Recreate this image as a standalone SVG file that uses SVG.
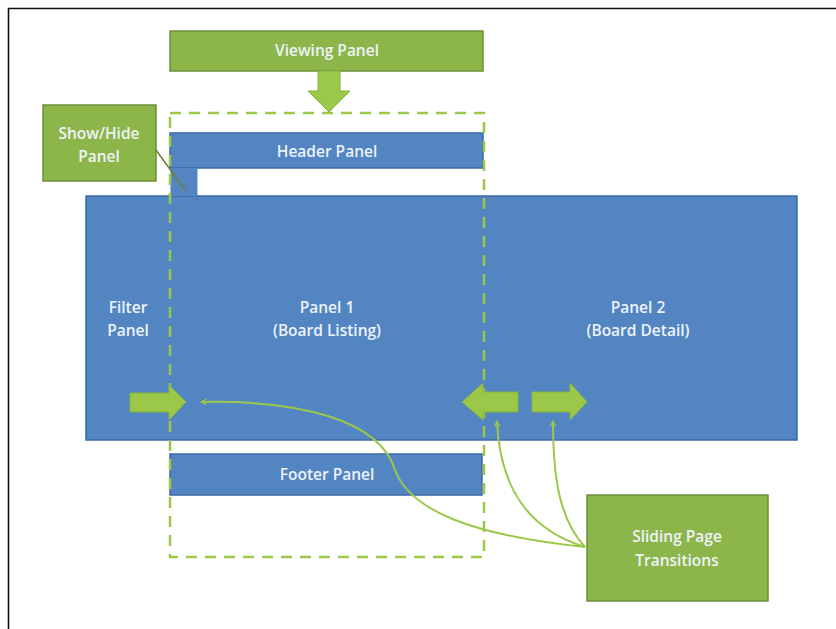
<svg xmlns="http://www.w3.org/2000/svg" width="836" height="629" viewBox="0 0 836 629">
<defs>
<style>
.blue{fill:#5385c3;stroke:#3d6aa6;stroke-width:1.5}
.gbox{fill:#8db64a;stroke:#6f8f38;stroke-width:1.5}
.lbl{font-family:"Open Sans","Liberation Sans",sans-serif;font-size:15.5px;font-weight:600;fill:#eef3fa;text-anchor:middle}
.garrow{fill:#9cc84a;stroke:#86b43a;stroke-width:1}
.conn{fill:none;stroke:#9cc84a;stroke-width:2}
</style>
<marker id="ah" viewBox="0 0 10 10" refX="9" refY="5" markerWidth="7" markerHeight="7" orient="auto" markerUnits="userSpaceOnUse">
<path d="M1,1 L9,5 L1,9" fill="none" stroke="#9cc84a" stroke-width="1.6"/>
</marker>
</defs>
<rect width="836" height="629" fill="#ffffff"/>
<path d="M8.5,629 V8.5 H836" fill="none" stroke="#111" stroke-width="1.6"/>

<g id="big-panel">
<rect class="blue" x="86" y="196" width="711" height="244"/>
<text class="lbl" x="128" y="313">Filter</text>
<text class="lbl" x="128" y="336">Panel</text>
<text class="lbl" x="327" y="313">Panel 1</text>
<text class="lbl" x="327" y="336">(Board Listing)</text>
<text class="lbl" x="638" y="313">Panel 2</text>
<text class="lbl" x="638" y="336">(Board Detail)</text>
</g>

<g id="header-panel">
<rect class="blue" x="170" y="133" width="313" height="35"/>
<rect x="170.5" y="168" width="27" height="28" fill="#5385c3"/>
<text class="lbl" x="327" y="157">Header Panel</text>
</g>

<g id="footer-panel">
<rect class="blue" x="170" y="454" width="312" height="41"/>
<text class="lbl" x="327" y="480">Footer Panel</text>
</g>

<g id="viewing-frame">
<rect x="170" y="113" width="314" height="444" fill="none" stroke="#9cc84a" stroke-width="2.5" stroke-dasharray="11,8"/>
</g>

<g id="viewing-panel">
<rect class="gbox" x="170" y="31" width="313" height="40"/>
<text class="lbl" x="327" y="56">Viewing Panel</text>
<path class="garrow" d="M318,71 H340 V91 H350 L329,112 L308,91 H318 Z"/>
</g>

<g id="show-hide-panel">
<rect class="gbox" x="43" y="105" width="113" height="76"/>
<text class="lbl" x="99" y="139">Show/Hide</text>
<text class="lbl" x="99" y="162">Panel</text>
</g>

<g id="sliding-transitions">
<rect class="gbox" x="587" y="495" width="181" height="106"/>
<text class="lbl" x="677" y="542">Sliding Page</text>
<text class="lbl" x="677" y="566">Transitions</text>
</g>

<g id="slide-arrows">
<path class="garrow" d="M130,393 H169 V385 L186,402 L169,420 V412 H130 Z"/>
<path class="garrow" d="M518,392 H483 V383 L462,402 L483,420 V412 H518 Z"/>
<path class="garrow" d="M532,392 H570 V383 L587,402 L570,420 V412 H532 Z"/>
</g>

<g id="connectors">
<path d="M156,150 L185,190" fill="none" stroke="#6f7a3a" stroke-width="1.5"/>
<path class="conn" marker-end="url(#ah)" d="M585,547 C470,535 410,510 395,470 C380,420 300,400 201,402"/>
<path class="conn" marker-end="url(#ah)" d="M585,547 C530,530 500,490 497,421"/>
<path class="conn" marker-end="url(#ah)" d="M585,547 C560,520 553,480 553,421"/>
</g>
</svg>
